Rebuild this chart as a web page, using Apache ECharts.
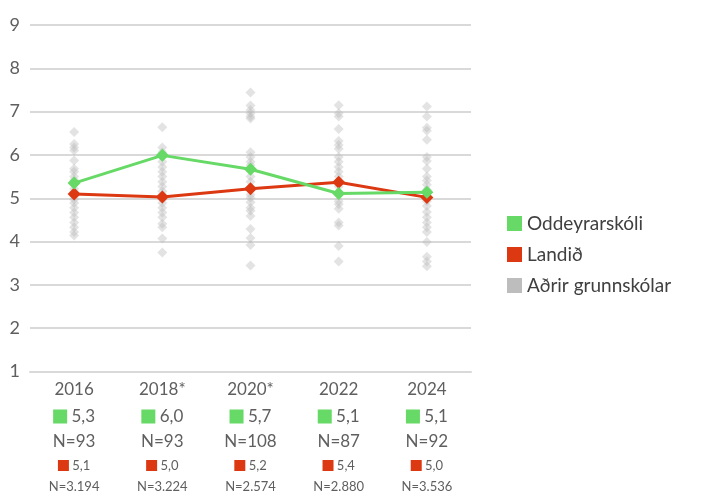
<!DOCTYPE html>
<html><head><meta charset="utf-8">
<script src="https://cdn.jsdelivr.net/npm/echarts@6/dist/echarts.min.js"></script>
<style>html,body{margin:0;padding:0;background:#fff}#c{width:701px;height:493px}</style>
</head><body><div id="c"></div>
<script>
var years = ['2016', '2018*', '2020*', '2022', '2024'];
var schoolValues = [5.35, 5.99, 5.67, 5.11, 5.14];
var nationValues = [5.10, 5.03, 5.22, 5.37, 5.02];
var schoolLabels = ['5,3', '6,0', '5,7', '5,1', '5,1'];
var schoolN = ['N=93', 'N=93', 'N=108', 'N=87', 'N=92'];
var nationLabels = ['5,1', '5,0', '5,2', '5,4', '5,0'];
var nationN = ['N=3.194', 'N=3.224', 'N=2.574', 'N=2.880', 'N=3.536'];
var yTicks = [1, 2, 3, 4, 5, 6, 7, 8, 9];

var others2016 = [6.53, 6.25, 6.17, 6.10, 5.87, 5.68, 5.61, 5.50, 5.42, 5.33, 5.22, 5.15, 5.05, 4.97, 4.89, 4.78, 4.67, 4.56, 4.44, 4.33, 4.22, 4.14];
var others2018 = [6.64, 6.17, 6.06, 5.95, 5.84, 5.72, 5.61, 5.50, 5.38, 5.27, 5.16, 5.08, 4.97, 4.89, 4.78, 4.67, 4.56, 4.41, 4.33, 4.07, 3.75];
var others2020 = [7.44, 7.14, 7.04, 6.96, 6.89, 6.84, 6.06, 5.95, 5.84, 5.76, 5.50, 5.38, 5.08, 5.01, 4.91, 4.78, 4.71, 4.59, 4.29, 4.08, 3.92, 3.45];
var others2022 = [7.15, 6.96, 6.89, 6.60, 6.32, 6.23, 6.14, 5.95, 5.84, 5.72, 5.61, 5.50, 5.40, 5.27, 4.93, 4.86, 4.76, 4.44, 4.37, 3.90, 3.54];
var others2024 = [7.12, 6.89, 6.63, 6.56, 6.35, 5.95, 5.86, 5.68, 5.50, 5.41, 5.31, 5.20, 4.93, 4.82, 4.68, 4.56, 4.44, 4.33, 4.22, 3.99, 3.65, 3.54, 3.43];

var GREEN = '#66d966', RED = '#dc3912', GRAY = '#bdbdbd';
var FONT = 'Lato';
var othersAll = [others2016, others2018, others2020, others2022, others2024];
var scatterData = [];
othersAll.forEach(function (arr, i) { arr.forEach(function (v) { scatterData.push([i, v]); }); });

var chart = echarts.init(document.getElementById('c'));
chart.setOption({
  animation: false,
  textStyle: { fontFamily: FONT },
  grid: { left: 30, right: 230, top: 25, bottom: 116 },
  legend: {
    orient: 'vertical', left: 502, top: 209, itemGap: 12,
    icon: 'rect', itemWidth: 15, itemHeight: 15,
    textStyle: { fontSize: 19, color: '#404040', fontFamily: FONT },
    data: [
      { name: 'Oddeyrarskóli', itemStyle: { color: GREEN } },
      { name: 'Landið', itemStyle: { color: RED } },
      { name: 'Aðrir grunnskólar', itemStyle: { color: GRAY, opacity: 1 } }
    ]
  },
  xAxis: {
    type: 'category', data: years, boundaryGap: true,
    axisLine: { show: true, lineStyle: { color: '#d9d9d9', width: 2 } },
    axisTick: { show: false },
    axisLabel: {
      margin: 4, interval: 0,
      formatter: function (val, idx) {
        return '{y|' + val + '}\n{g|}{gv| ' + schoolLabels[idx] + '}\n{n|' + schoolN[idx] + '}\n{r|}{rv| ' + nationLabels[idx] + '}\n{ns|' + nationN[idx] + '}';
      },
      rich: {
        y: { fontSize: 17, color: '#5f5f5f', lineHeight: 28, fontFamily: FONT },
        g: { backgroundColor: GREEN, width: 14, height: 14, lineHeight: 26 },
        gv: { fontSize: 17, color: '#5f5f5f', lineHeight: 26, fontFamily: FONT },
        n: { fontSize: 17, color: '#5f5f5f', lineHeight: 24, fontFamily: FONT },
        r: { backgroundColor: RED, width: 11, height: 11, lineHeight: 24 },
        rv: { fontSize: 13, color: '#5f5f5f', lineHeight: 24, fontFamily: FONT },
        ns: { fontSize: 13, color: '#5f5f5f', lineHeight: 18, fontFamily: FONT }
      }
    }
  },
  yAxis: {
    type: 'value', min: 1, max: 9, interval: 1,
    axisLine: { show: false }, axisTick: { show: false },
    axisLabel: { fontSize: 18, color: '#5f5f5f', margin: 10, fontFamily: FONT,
      verticalAlign: 'middle', padding: [0, 0, 9, 0],
      formatter: function (v) { return yTicks.indexOf(v) >= 0 ? String(v) : ''; } },
    splitLine: { lineStyle: { color: '#d9d9d9', width: 2 } }
  },
  series: [
    {
      name: 'Aðrir grunnskólar', type: 'scatter', data: scatterData,
      symbol: 'diamond', symbolSize: 10,
      itemStyle: { color: 'rgba(185,185,185,0.5)' }, z: 1
    },
    {
      name: 'Landið', type: 'line', data: nationValues,
      symbol: 'diamond', symbolSize: 13, showSymbol: true,
      lineStyle: { color: RED, width: 3 }, itemStyle: { color: RED }, z: 3
    },
    {
      name: 'Oddeyrarskóli', type: 'line', data: schoolValues,
      symbol: 'diamond', symbolSize: 13, showSymbol: true,
      lineStyle: { color: GREEN, width: 3 }, itemStyle: { color: GREEN }, z: 4
    }
  ]
});
</script></body></html>
